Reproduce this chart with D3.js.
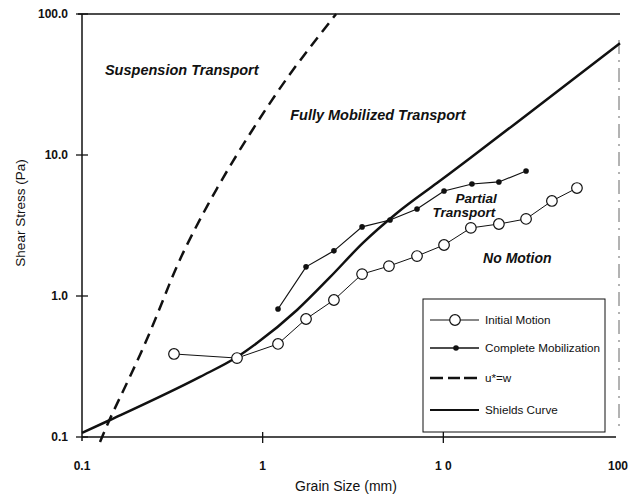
<!DOCTYPE html>
<html><head><meta charset="utf-8">
<script src="https://cdn.jsdelivr.net/npm/d3@7"></script>
<style>body{margin:0;background:#fff}svg{display:block}text{font-family:"Liberation Sans",Arial,sans-serif;fill:#111}</style>
</head><body><svg id="c" width="634" height="496"></svg>
<script>
// Data
const initialX = [0.323, 0.721, 1.216, 1.738, 2.48, 3.55, 5.00, 7.15, 10.09, 14.2, 20.3, 28.7, 39.9, 54.9];
const initialY = [0.388, 0.363, 0.457, 0.687, 0.937, 1.43, 1.63, 1.92, 2.30, 3.04, 3.24, 3.52, 4.72, 5.83];
const completeX = [1.216, 1.738, 2.48, 3.55, 5.07, 7.15, 10.09, 14.4, 20.3, 28.7];
const completeY = [0.809, 1.61, 2.09, 3.09, 3.46, 4.14, 5.56, 6.23, 6.44, 7.70];
const settlingX = [0.1258, 0.1429, 0.1844, 0.2379, 0.2954, 0.3577, 0.5586, 0.851, 1.296, 1.828, 2.55];
const settlingY = [0.0922, 0.1364, 0.2665, 0.5467, 1.103, 2.018, 5.93, 14.3, 32.4, 58.3, 100];
const shieldsX = [0.1, 0.1429, 0.45, 0.721, 0.93, 1.55, 2.36, 3.59, 5.54, 9.22, 14.1, 31.3, 95];
const shieldsY = [0.107, 0.132, 0.267, 0.369, 0.464, 0.796, 1.36, 2.38, 3.88, 6.33, 9.52, 20.8, 62];
const xTicks = [0.1, 1, 10, 100];
const xTickLabels = ["0.1", "1", "1 0", "100"];
const yTicks = [0.1, 1, 10, 100];
const yTickLabels = ["0.1", "1.0", "10.0", "100.0"];
const legendLabels = ["Initial Motion", "Complete Mobilization", "u*=w", "Shields Curve"];
const regionLabels = [
  {t: "Suspension Transport", x: 0.134, y: 36.9, anchor: "start", size: 14.5},
  {t: "Fully Mobilized Transport", x: 1.42, y: 17.7, anchor: "start", size: 14.5},
  {t: "Partial", x: 15.2, y: 4.55, anchor: "middle", size: 13.5},
  {t: "Transport", x: 13.0, y: 3.63, anchor: "middle", size: 13.5},
  {t: "No Motion", x: 16.6, y: 1.72, anchor: "start", size: 14}
];

const svg = d3.select("#c");
const x = d3.scaleLog().domain([0.1, 100]).range([82, 624]);
const y = d3.scaleLog().domain([0.1, 100]).range([437, 14]);

// frame
svg.append("line").attr("x1", 82).attr("x2", 82).attr("y1", 14).attr("y2", 441).attr("stroke", "#111").attr("stroke-width", 1.5);
svg.append("line").attr("x1", 78).attr("x2", 620).attr("y1", 14).attr("y2", 14).attr("stroke", "#111").attr("stroke-width", 1.5);
svg.append("line").attr("x1", 82).attr("x2", 616).attr("y1", 437).attr("y2", 437).attr("stroke", "#111").attr("stroke-width", 1.5);
svg.append("line").attr("x1", 619).attr("x2", 619).attr("y1", 40).attr("y2", 432).attr("stroke", "#666").attr("stroke-width", 1).attr("stroke-dasharray", "14 6 2 6");

// y ticks
yTicks.forEach((v, i) => {
  svg.append("line").attr("x1", 76).attr("x2", 88).attr("y1", y(v)).attr("y2", y(v)).attr("stroke", "#111").attr("stroke-width", 1.3);
  svg.append("text").attr("x", 68).attr("y", y(v) + 4).attr("text-anchor", "end")
    .attr("font-size", 12).attr("font-weight", "bold").text(yTickLabels[i]);
});
// x ticks
xTicks.forEach((v, i) => {
  if (v > 0.1 && v < 100) svg.append("line").attr("x1", x(v)).attr("x2", x(v)).attr("y1", 432).attr("y2", 443).attr("stroke", "#111").attr("stroke-width", 1.3);
  svg.append("text").attr("x", i === 3 ? x(v) - 6 : x(v)).attr("y", 470).attr("text-anchor", "middle")
    .attr("font-size", 12).attr("font-weight", "bold").text(xTickLabels[i]);
});

// axis titles
svg.append("text").attr("x", 346).attr("y", 491).attr("text-anchor", "middle").attr("font-size", 14).text("Grain Size (mm)");
svg.append("text").attr("transform", "translate(25,213) rotate(-90)").attr("text-anchor", "middle").attr("font-size", 13.5).text("Shear Stress (Pa)");

const line = d3.line().x(d => x(d[0])).y(d => y(d[1]));
const smooth = d3.line().x(d => x(d[0])).y(d => y(d[1])).curve(d3.curveMonotoneX);
const basis = d3.line().x(d => x(d[0])).y(d => y(d[1])).curve(d3.curveBasis);

// u*=w
svg.append("path").datum(d3.zip(settlingX, settlingY)).attr("d", basis)
  .attr("fill", "none").attr("stroke", "#111").attr("stroke-width", 2.5).attr("stroke-dasharray", "11 7");
// Shields
svg.append("path").datum(d3.zip(shieldsX, shieldsY)).attr("d", smooth)
  .attr("fill", "none").attr("stroke", "#111").attr("stroke-width", 2.5);
// complete mobilization
const cData = d3.zip(completeX, completeY);
svg.append("path").datum(cData).attr("d", line).attr("fill", "none").attr("stroke", "#111").attr("stroke-width", 1.2);
svg.selectAll(".cd").data(cData).enter().append("circle").attr("cx", d => x(d[0])).attr("cy", d => y(d[1])).attr("r", 2.8).attr("fill", "#111");
// initial motion
const iData = d3.zip(initialX, initialY);
svg.append("path").datum(iData).attr("d", line).attr("fill", "none").attr("stroke", "#111").attr("stroke-width", 1);
svg.selectAll(".id").data(iData).enter().append("circle").attr("cx", d => x(d[0])).attr("cy", d => y(d[1])).attr("r", 5.3)
  .attr("fill", "#fff").attr("stroke", "#111").attr("stroke-width", 1.2);

// region labels
regionLabels.forEach(r => {
  svg.append("text").attr("x", x(r.x)).attr("y", y(r.y)).attr("font-size", r.size).attr("font-weight", "bold")
    .attr("font-style", "italic").attr("text-anchor", r.anchor).text(r.t);
});

// legend
const lg = svg.append("g");
lg.append("rect").attr("x", 423).attr("y", 299).attr("width", 182).attr("height", 133).attr("fill", "#fff").attr("stroke", "#111").attr("stroke-width", 1);
const rowY = [320, 348, 378, 410];
legendLabels.forEach((t, i) => {
  const ly = rowY[i];
  const l = lg.append("line").attr("x1", 430).attr("x2", 479).attr("y1", ly).attr("y2", ly).attr("stroke", "#111");
  if (i === 0) { l.attr("stroke-width", 1); lg.append("circle").attr("cx", 455).attr("cy", ly).attr("r", 5.3).attr("fill", "#fff").attr("stroke", "#111").attr("stroke-width", 1.2); }
  if (i === 1) { l.attr("stroke-width", 1.4); lg.append("circle").attr("cx", 456).attr("cy", ly).attr("r", 2.8).attr("fill", "#111"); }
  if (i === 2) { l.attr("stroke-width", 2.5).attr("stroke-dasharray", "13 5 12 4"); }
  if (i === 3) { l.attr("stroke-width", 1.8); }
  lg.append("text").attr("x", 485).attr("y", ly + 4).attr("font-size", 11.7).text(t);
});
</script></body></html>
